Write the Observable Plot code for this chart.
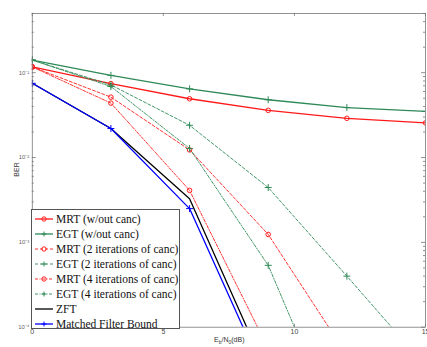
<!DOCTYPE html>
<html>
<head>
<meta charset="utf-8">
<script src="https://cdn.jsdelivr.net/npm/d3@7"></script>
<script src="https://cdn.jsdelivr.net/npm/@observablehq/plot@0.6"></script>
<style>
  html, body { margin: 0; padding: 0; background: #fff; overflow: hidden; }
  #wrap { position: relative; width: 427px; height: 347px; overflow: hidden; }
  #legend { position: absolute; left: 31px; top: 209px; width: 149px; height: 120px;
    background: #fff; border: 1px solid #555; font-family: "Liberation Serif", "Times New Roman", serif;
    font-size: 11.5px; color: #111; box-sizing: border-box; }
  .row { position: absolute; left: 0; height: 15px; display: flex; align-items: center; white-space: nowrap; }
  .row svg { margin-left: 3px; margin-right: 3px; flex: none; }
  #ylab { position: absolute; left: 9px; top: 166px; transform: rotate(-90deg); transform-origin: center;
    font-family: "Liberation Sans", Arial, sans-serif; font-size: 7px; color: #333; }
  #xlab { position: absolute; left: 214px; top: 336px; font-family: "Liberation Sans", Arial, sans-serif;
    font-size: 7px; color: #333; }
  #xlab sub { font-size: 5px; }
</style>
</head>
<body>
<div id="wrap">
  <div id="chart"></div>
  <div id="ylab">BER</div>
  <div id="xlab">E<sub>b</sub>/N<sub>0</sub>(dB)</div>
  <div id="legend"></div>
</div>
<script>
// ---- data ----
const snr = [0, 3, 6, 9, 12, 15];
const mrtNoCanc = [0.117, 0.0744, 0.0493, 0.036, 0.029, 0.0256];
const egtNoCanc = [0.141, 0.093, 0.0645, 0.048, 0.0388, 0.035];
const mrt2Iter = [0.117, 0.0515, 0.0123, 0.00124, 0.000047];
const egt2Iter = [0.141, 0.0718, 0.024, 0.00443, 0.0004, 0.000035];
const mrt4Iter = [0.117, 0.0438, 0.0041, 0.000056];
const egt4Iter = [0.141, 0.0687, 0.0128, 0.000536, 0.0000035];
const zft = [0.075, 0.022, 0.00327, 0.000027];
const mfb = [0.075, 0.022, 0.0025, 0.000022];

const seriesNames = ["MRT (w/out canc)", "EGT (w/out canc)", "MRT (2 iterations of canc)",
  "EGT (2 iterations of canc)", "MRT (4 iterations of canc)", "EGT (4 iterations of canc)",
  "ZFT", "Matched Filter Bound"];
const seriesValues = [mrtNoCanc, egtNoCanc, mrt2Iter, egt2Iter, mrt4Iter, egt4Iter, zft, mfb];

const xTicks = [0, 5, 10, 15];
const yMajor = [1e-4, 1e-3, 1e-2, 1e-1];
const yTickLabels = ["10\u207B\u2074", "10\u207B\u00B3", "10\u207B\u00B2", "10\u207B\u00B9"];

// ---- styles ----
const RED = "#ff1a1a", GREEN = "#2e8a57";
const styles = [
  {stroke: RED, dash: null, symbol: "circle", sw: 1.3},
  {stroke: GREEN, dash: null, symbol: "plus", sw: 1.3},
  {stroke: RED, dash: "3,2", symbol: "circle", sw: 0.9},
  {stroke: GREEN, dash: "3,2", symbol: "plus", sw: 0.9},
  {stroke: RED, dash: "3,1.5,1,1.5", symbol: "circle", sw: 0.9},
  {stroke: GREEN, dash: "3,1.5,1,1.5", symbol: "plus", sw: 0.9},
  {stroke: "#000", dash: null, symbol: null, sw: 1.3},
  {stroke: "#0000ff", dash: null, symbol: "plus", sw: 1.3}
];

const series = seriesNames.map((name, i) => ({
  name, style: styles[i],
  rows: seriesValues[i].map((v, j) => ({x: snr[j], y: v}))
}));

// minor ticks of the log scale
const yMinor = [];
for (let e = -4; e <= -1; e++) for (let m = 2; m <= 9; m++) { const v = m * 10 ** e; if (v <= 0.5) yMinor.push(v); }

const W = 430, H = 347, mL = 32, mR = 2, mT = 13, mB = 18;
const pw = W - mL - mR, ph = H - mT - mB;

const marks = [];
marks.push(Plot.tickY(yMinor, {y: d => d, stroke: "#444", strokeWidth: 0.6, insetRight: pw - 2}));
marks.push(Plot.tickY(yMajor, {y: d => d, stroke: "#444", strokeWidth: 0.6, insetRight: pw - 4}));
marks.push(Plot.tickY(yMinor, {y: d => d, stroke: "#444", strokeWidth: 0.6, insetLeft: pw - 2}));
marks.push(Plot.tickY(yMajor, {y: d => d, stroke: "#444", strokeWidth: 0.6, insetLeft: pw - 4}));
marks.push(Plot.tickX(xTicks, {x: d => d, stroke: "#444", strokeWidth: 0.6, insetBottom: ph - 3}));
marks.push(Plot.tickX(xTicks, {x: d => d, stroke: "#444", strokeWidth: 0.6, insetTop: ph - 3}));

for (const s of series) {
  marks.push(Plot.line(s.rows, {x: "x", y: "y", stroke: s.style.stroke, strokeWidth: s.style.sw,
    strokeDasharray: s.style.dash, clip: true}));
}
for (const s of series) {
  if (!s.style.symbol) continue;
  marks.push(Plot.dot(s.rows, {x: "x", y: "y", stroke: s.style.stroke, symbol: s.style.symbol,
    r: s.style.symbol === "circle" ? 2.3 : 2.4, strokeWidth: 1, fill: "none", clip: true}));
}
marks.push(Plot.frame({stroke: "#777", strokeWidth: 0.8}));
marks.push(Plot.axisX(xTicks, {tickSize: 0, tickPadding: 2, fontSize: 7, fill: "#444", label: null,
  tickFormat: d => String(d)}));
marks.push(Plot.axisY(yMajor, {tickSize: 0, tickPadding: 3, fontSize: 6, fill: "#666", label: null,
  tickFormat: d => yTickLabels[yMajor.indexOf(d)]}));

const chart = Plot.plot({
  width: W, height: H,
  marginLeft: mL, marginRight: mR, marginTop: mT, marginBottom: mB,
  style: {fontFamily: "Liberation Sans, Arial, sans-serif", background: "#fff", overflow: "visible"},
  x: {domain: [0, 15]},
  y: {type: "log", domain: [1e-4, 0.5]},
  marks
});
document.getElementById("chart").appendChild(chart);

// legend
const leg = document.getElementById("legend");
series.forEach((s, i) => {
  const row = document.createElement("div");
  row.className = "row";
  row.style.top = (1 + i * 15.1) + "px";
  const st = s.style;
  let sym = "";
  if (st.symbol === "circle") sym = `<circle cx="9" cy="5" r="2.2" fill="none" stroke="${st.stroke}" stroke-width="1"/>`;
  else if (st.symbol === "plus") sym = `<path d="M9,2.5V7.5M6.5,5H11.5" stroke="${st.stroke}" stroke-width="1"/>`;
  row.innerHTML = `<svg width="18" height="10"><line x1="0" y1="5" x2="18" y2="5" stroke="${st.stroke}"
     stroke-width="${st.sw}" ${st.dash ? `stroke-dasharray="${st.dash}"` : ""}/>${sym}</svg><span>${s.name}</span>`;
  leg.appendChild(row);
});
</script>
</body>
</html>
